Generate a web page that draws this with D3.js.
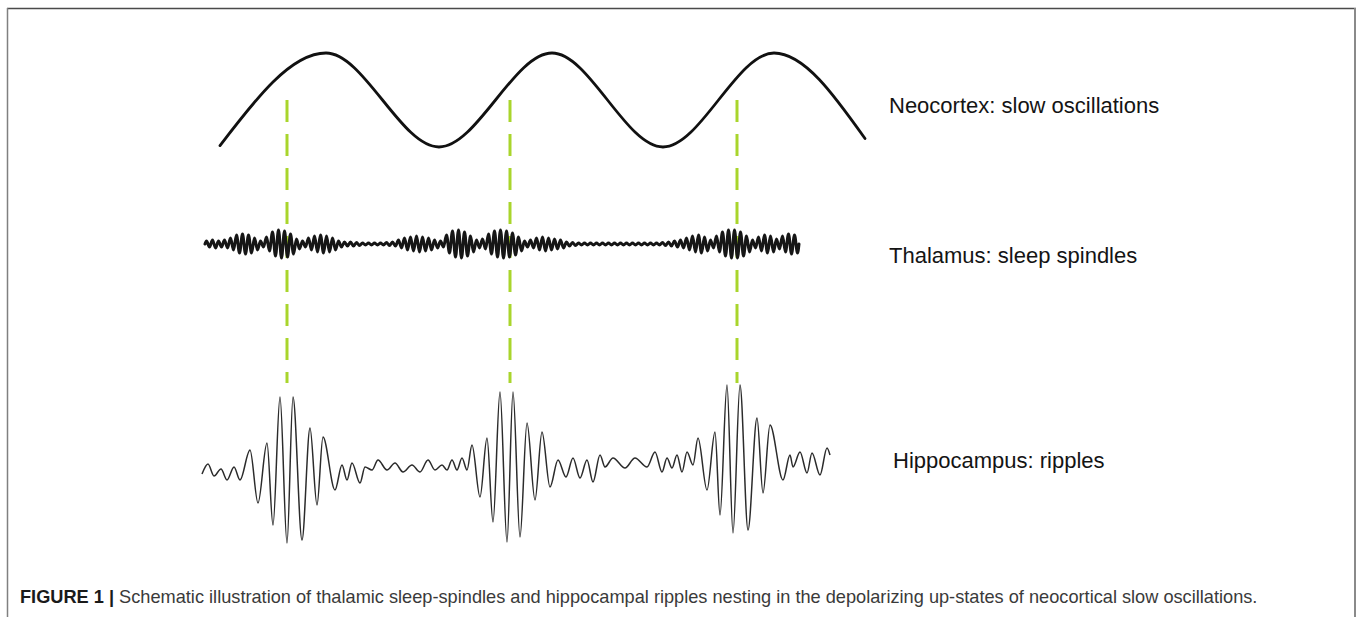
<!DOCTYPE html>
<html><head><meta charset="utf-8">
<script src="https://cdn.jsdelivr.net/npm/d3@7"></script>
<style>
html,body{margin:0;padding:0;background:#fff;}
svg{display:block;}
</style></head>
<body>
<svg id="chart" width="1358" height="617"></svg>
<script>
// ---------------- data ----------------
const traceLabels = ["Neocortex: slow oscillations", "Thalamus: sleep spindles", "Hippocampus: ripples"];
const captionBold = "FIGURE 1 |";
const captionText = " Schematic illustration of thalamic sleep-spindles and hippocampal ripples nesting in the depolarizing up-states of neocortical slow oscillations.";

// slow oscillation extrema: time (ms) and normalized amplitude
const soTime  = [100, 630, 1195, 1760, 2315, 2870, 3325];
const soValue = [-0.97, 1, -1, 1, -1, 1, -0.82];

// thalamic spindles: start time (ms), cycle length (ms), amplitude per cycle
const spindleStart = 25;
const spindlePeriod = 30;
const spindleAmp = [3,4,3,4,6,9,10,9,6,3, 7,12,14,13,10,5,3,6,8,9,
  8,6,3,2,2,1.5,1,1,1,1, 1.5,2,4,6,7,8,7,6,4,3,
  9,13,14,12,8,4,5,10,13,14, 13,11,7,3,4,6,7,6,5,4,
  2,1.5,1,1,1,1,1,1,1,1, 1,1,1,1,1,1,1.5,2,3,4,
  6,8,9,7,4,8,12,14,14,12, 8,4,7,9,8,5,8,10,9];

// hippocampal ripples: extrema time (ms) and amplitude
const rippleTime = [10,40,70,105,135,170,200,250,290,335, 365,400,435,465,510,550,585,615,675,710,
  735,760,800,825,860,890,935,975,1015,1060, 1100,1140,1175,1210,1235,1260,1285,1310,1335,1360,
  1400,1435,1465,1500,1535,1565,1600,1635,1675,1710, 1750,1790,1830,1865,1900,1935,1965,2000,2025,2065,
  2125,2175,2235,2275,2310,2335,2360,2385,2410,2435, 2465,2490,2535,2575,2600,2635,2665,2700,2740,2785,
  2815,2850,2915,2950,2965,3000,3035,3060,3100,3135, 3150];
const rippleValue = [-6,4,-8,-1,-12,1,-12,18,-35,25, -57,71,-75,71,-72,40,-37,31,-22,3,
  -12,5,-15,1,-2,8,-2,5,-4,3, -4,8,-2,3,-2,8,-2,10,-2,23,
  -29,30,-54,76,-74,76,-69,45,-32,36, -19,8,-9,10,-10,8,-14,13,1,10,
  0,10,1,16,-4,10,0,13,-4,16, 3,30,-22,36,-47,83,-65,83,-62,50,
  -25,43,-12,13,1,16,-5,15,-7,20, 13];

// up-state markers (ms)
const upStateTime = [435, 1550, 2685];

// ---------------- drawing ----------------
const svg = d3.select("#chart");
const W = 1358, H = 617;

// figure frame
const frame = svg.append("g");
frame.append("line").attr("x1", 7).attr("x2", 1356).attr("y1", 8.5).attr("y2", 8.5)
  .attr("stroke", "#4a4a4a").attr("stroke-width", 1.5);
frame.append("line").attr("x1", 7.5).attr("x2", 7.5).attr("y1", 8).attr("y2", H)
  .attr("stroke", "#808080").attr("stroke-width", 1.5);
frame.append("line").attr("x1", 1355).attr("x2", 1355).attr("y1", 8).attr("y2", H)
  .attr("stroke", "#8a8a8a").attr("stroke-width", 2);

const x = d3.scaleLinear().domain([0, 3300]).range([200, 860]);
const ySO = d3.scaleLinear().domain([-1, 1]).range([147, 53]);
const ySp = d3.scaleLinear().domain([-20, 20]).range([264, 224]);
const yRp = d3.scaleLinear().domain([-100, 100]).range([568, 368]);

// green dashed markers
svg.append("g").selectAll("line").data(upStateTime).join("line")
  .attr("x1", d => x(d)).attr("x2", d => x(d))
  .attr("y1", 100).attr("y2", 383)
  .attr("stroke", "#a9d52c").attr("stroke-width", 3)
  .attr("stroke-dasharray", "22,12");

// slow oscillation
const soPts = soTime.map((t, i) => [t, soValue[i]]);
svg.append("path")
  .attr("d", d3.line().x(d => x(d[0])).y(d => ySO(d[1])).curve(d3.curveMonotoneX)(soPts))
  .attr("fill", "none").attr("stroke", "#111").attr("stroke-width", 2.8)
  .attr("stroke-linecap", "round");

// spindles
const spPts = [[spindleStart, 0]];
spindleAmp.forEach((a, i) => {
  const t0 = spindleStart + i * spindlePeriod;
  spPts.push([t0 + spindlePeriod * 0.25, a]);
  spPts.push([t0 + spindlePeriod * 0.75, -a]);
});
spPts.push([spindleStart + spindleAmp.length * spindlePeriod, 0]);
svg.append("path")
  .attr("d", d3.line().x(d => x(d[0])).y(d => ySp(d[1])).curve(d3.curveMonotoneX)(spPts))
  .attr("fill", "none").attr("stroke", "#161616").attr("stroke-width", 3)
  .attr("stroke-linejoin", "round").attr("stroke-linecap", "round");

// ripples
const rpPts = rippleTime.map((t, i) => [t, rippleValue[i]]);
svg.append("path")
  .attr("d", d3.line().x(d => x(d[0])).y(d => yRp(d[1])).curve(d3.curveMonotoneX)(rpPts))
  .attr("fill", "none").attr("stroke", "#2b2b2b").attr("stroke-width", 1.5)
  .attr("stroke-linejoin", "round");

// labels
const labelPos = [[889, 113], [889, 263], [893, 468]];
svg.append("g").selectAll("text").data(traceLabels).join("text")
  .attr("x", (d, i) => labelPos[i][0]).attr("y", (d, i) => labelPos[i][1])
  .attr("font-family", "'Liberation Sans', Arial, sans-serif")
  .attr("font-size", 22).attr("fill", "#141414")
  .text(d => d);

// caption
const cap = svg.append("text").attr("x", 20).attr("y", 603)
  .attr("font-family", "'Liberation Sans', Arial, sans-serif")
  .attr("font-size", 18.2).attr("fill", "#3a3a3a");
cap.append("tspan").attr("font-weight", "bold").attr("fill", "#1a1a1a").text(captionBold);
cap.append("tspan").text(captionText);
</script>
</body></html>
